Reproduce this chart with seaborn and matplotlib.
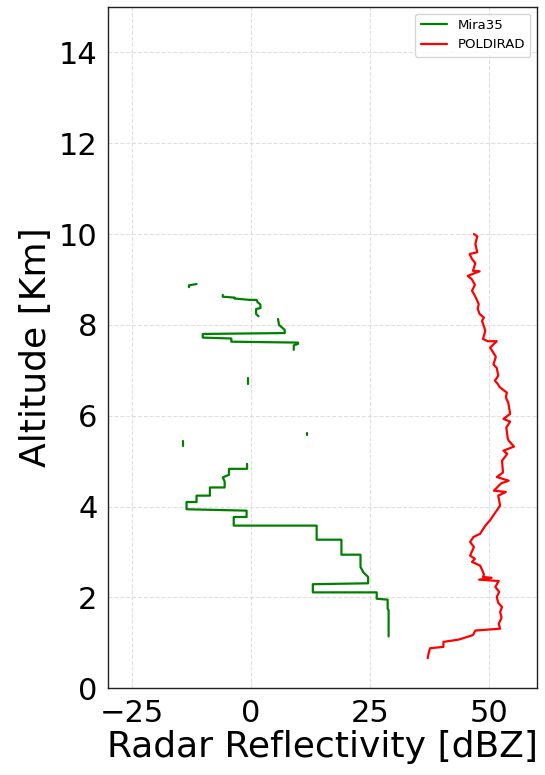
import pandas as pd
import matplotlib
matplotlib.use('Agg')
import matplotlib.pyplot as plt
import seaborn as sns

# --- data (reflectivity dBZ, altitude km) ---
# Mira35: stepped profile, split in separate segments (gaps in the radar data)
mira_seg1_x = [28.9, 28.9, 28.7, 28.7, 26.4, 26.4, 13.0, 13.0, 24.6, 24.6, 23.6, 23.0, 23.0,
               19.0, 19.0, 13.8, 13.8, -3.6, -3.6, -0.9, -0.9, -13.5, -13.5, -11.4, -11.4,
               -8.6, -8.6, -5.5, -5.5, -5.9, -4.6, -4.6, -0.8, -0.8]
mira_seg1_y = [1.14, 1.71, 1.75, 1.95, 1.97, 2.11, 2.11, 2.29, 2.31, 2.45, 2.55, 2.67, 2.94,
               2.94, 3.27, 3.27, 3.58, 3.58, 3.77, 3.77, 3.91, 3.94, 4.10, 4.10, 4.24,
               4.24, 4.42, 4.42, 4.55, 4.64, 4.70, 4.83, 4.83, 4.94]
mira_seg2_x = [-14.3, -14.3]
mira_seg2_y = [5.34, 5.45]
mira_seg3_x = [11.8, 11.8]
mira_seg3_y = [5.58, 5.62]
mira_seg4_x = [-0.6, -0.6]
mira_seg4_y = [6.70, 6.83]
mira_seg5_x = [9.0, 9.0, 9.9, 9.9, -4.1, -4.1, -10.1, -10.1, 7.1, 7.1, 5.9, 5.7]
mira_seg5_y = [7.45, 7.55, 7.58, 7.61, 7.63, 7.70, 7.72, 7.80, 7.82, 7.89, 8.0, 8.13]
mira_seg6_x = [1.6, 1.1, 1.1, 2.0, 2.0, 1.4, 1.2, -0.2, -3.4, -3.4, -5.9, -5.9]
mira_seg6_y = [8.19, 8.24, 8.35, 8.37, 8.45, 8.50, 8.55, 8.55, 8.58, 8.60, 8.62, 8.66]
mira_seg7_x = [-13.0, -13.0, -11.4]
mira_seg7_y = [8.83, 8.87, 8.90]

# POLDIRAD: finely resolved, jagged profile
pold_x = [37.1, 37.3, 37.6, 40.4, 40.4, 43.6, 46.6, 47.1, 52.3, 52.0, 52.6, 52.3, 52.7, 51.9,
          51.6, 52.1, 51.3, 52.0, 47.9, 50.5, 48.7, 48.9, 48.7, 48.1, 46.4, 47.0, 46.0,
          46.8, 46.0, 46.7, 48.1, 49.2, 50.2, 51.3, 52.3, 51.9, 53.5, 51.0, 52.5, 54.1,
          51.6, 52.9, 52.7, 53.8, 53.0, 55.2, 54.1, 53.9, 53.6, 54.4, 53.0, 54.4, 54.0,
          53.5, 53.7, 52.3, 51.8, 51.2, 51.9, 51.6, 50.9, 51.4, 50.2, 51.6, 49.7, 48.7,
          49.2, 48.5, 48.9, 48.0, 47.6, 47.8, 47.2, 46.8, 46.4, 47.0, 46.4, 45.5, 48.0,
          46.6, 47.1, 46.4, 45.9, 47.5, 47.1, 47.5, 46.8]
pold_y = [0.66, 0.77, 0.88, 0.91, 1.02, 1.07, 1.17, 1.27, 1.31, 1.42, 1.55, 1.68, 1.79, 1.88,
          2.01, 2.12, 2.23, 2.36, 2.39, 2.43, 2.45, 2.50, 2.56, 2.70, 2.78, 2.85, 2.92,
          3.11, 3.22, 3.33, 3.40, 3.58, 3.70, 3.87, 4.02, 4.24, 4.32, 4.35, 4.51, 4.57,
          4.65, 4.75, 5.01, 5.16, 5.23, 5.32, 5.45, 5.50, 5.74, 5.87, 5.93, 6.04, 6.29,
          6.40, 6.51, 6.62, 6.70, 6.77, 6.88, 7.05, 7.13, 7.30, 7.50, 7.64, 7.64, 7.69,
          7.87, 8.09, 8.16, 8.24, 8.35, 8.46, 8.60, 8.68, 8.75, 8.88, 9.00, 9.08, 9.18,
          9.19, 9.36, 9.45, 9.56, 9.60, 9.78, 9.95, 10.0]

mira_segments = [(mira_seg1_x, mira_seg1_y), (mira_seg2_x, mira_seg2_y), (mira_seg3_x, mira_seg3_y),
                 (mira_seg4_x, mira_seg4_y), (mira_seg5_x, mira_seg5_y), (mira_seg6_x, mira_seg6_y),
                 (mira_seg7_x, mira_seg7_y)]

rows = []
for i, (xs, ys) in enumerate(mira_segments):
    for x, y in zip(xs, ys):
        rows.append({'dbz': x, 'alt': y, 'radar': 'Mira35', 'seg': i})
for x, y in zip(pold_x, pold_y):
    rows.append({'dbz': x, 'alt': y, 'radar': 'POLDIRAD', 'seg': 100})
df = pd.DataFrame(rows)

# --- plot ---
sns.set_style('white')
plt.rcParams.update({'text.color': 'black', 'axes.labelcolor': 'black',
                     'xtick.color': 'black', 'ytick.color': 'black'})
fig = plt.figure(figsize=(5.45, 7.75), dpi=100)
ax = fig.add_axes([0.198, 0.112, 0.787, 0.879])

sns.lineplot(data=df, x='dbz', y='alt', hue='radar', units='seg', estimator=None,
             sort=False, palette={'Mira35': 'green', 'POLDIRAD': 'red'},
             linewidth=1.6, ax=ax)

ax.set_xlim(-30, 60)
ax.set_ylim(0, 15)
ax.set_xticks([-25, 0, 25, 50])
ax.set_yticks(range(0, 15, 2))
ax.tick_params(labelsize=22, length=4, color='#333333', labelcolor='black')
ax.set_xlabel('Radar Reflectivity [dBZ]', fontsize=26, labelpad=2, color='black')
ax.set_ylabel('Altitude [Km]', fontsize=26, labelpad=4, color='black')
ax.grid(True, linestyle='--', color='#d8d8d8', linewidth=0.8, alpha=0.8)
for s in ax.spines.values():
    s.set_color('#222222')
    s.set_linewidth(1.0)

sns.move_legend(ax, 'upper right', title=None, fontsize=9.5, frameon=True)

fig.savefig('out.png', dpi=100)
